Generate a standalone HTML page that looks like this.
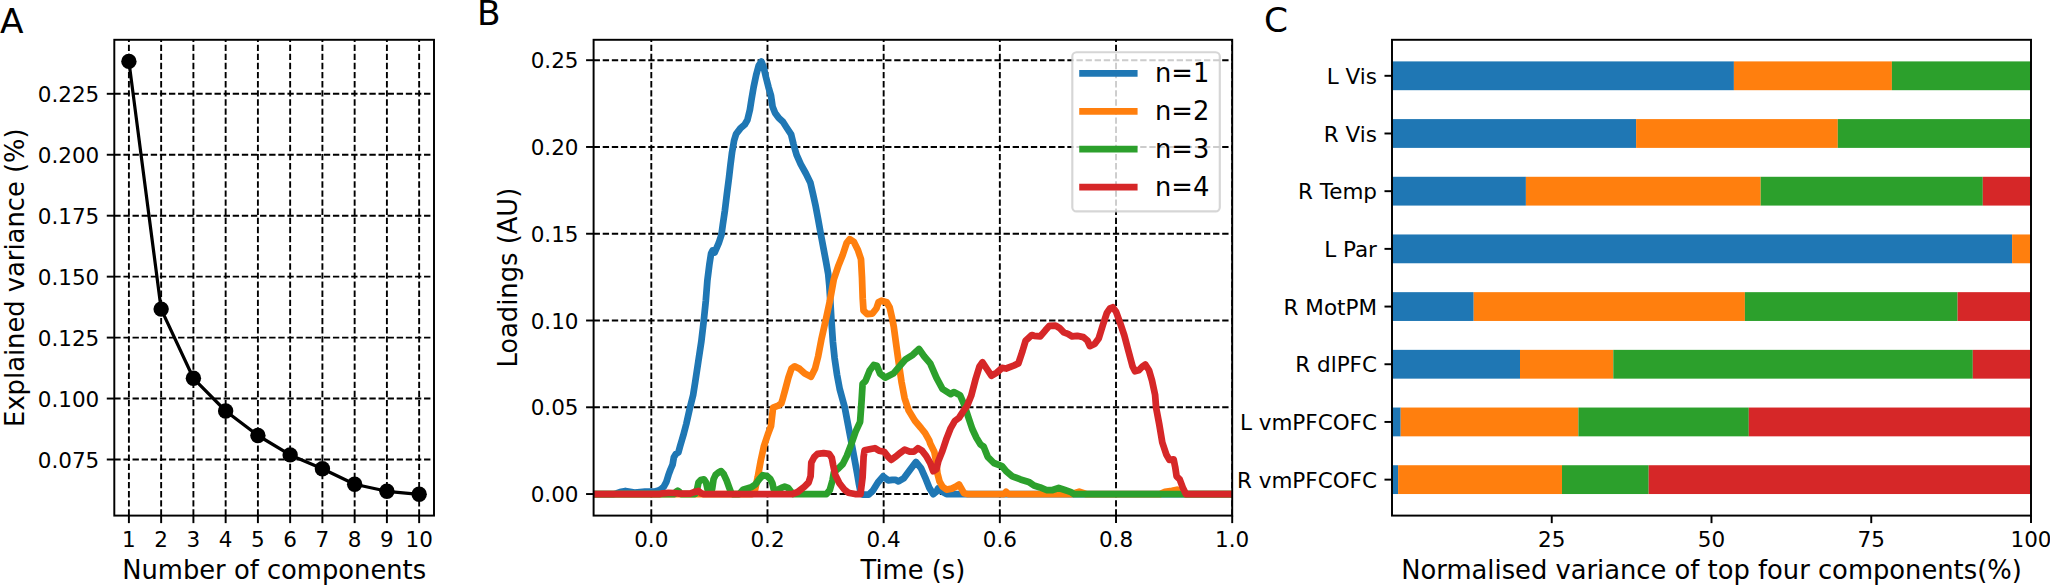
<!DOCTYPE html>
<html lang="en"><head><meta charset="utf-8"><title>Figure</title>
<style>html,body{margin:0;padding:0;background:#fff}svg{display:block}text{font-family:"DejaVu Sans", "Liberation Sans", sans-serif;fill:#000}</style></head><body>
<svg width="2050" height="585" viewBox="0 0 2050 585">
<rect width="2050" height="585" fill="#fff"/>
<g id="panelA">
<text x="0" y="32.6" font-size="34.38" text-anchor="start">A</text>
<clipPath id="cA"><rect x="114.3" y="39.8" width="319.7" height="475.8"/></clipPath>
<g clip-path="url(#cA)">
<line x1="128.9" y1="515.6" x2="128.9" y2="39.8" stroke="#000" stroke-width="1.9" stroke-dasharray="6.36 2.75"/>
<line x1="161.15" y1="515.6" x2="161.15" y2="39.8" stroke="#000" stroke-width="1.9" stroke-dasharray="6.36 2.75"/>
<line x1="193.4" y1="515.6" x2="193.4" y2="39.8" stroke="#000" stroke-width="1.9" stroke-dasharray="6.36 2.75"/>
<line x1="225.65" y1="515.6" x2="225.65" y2="39.8" stroke="#000" stroke-width="1.9" stroke-dasharray="6.36 2.75"/>
<line x1="257.9" y1="515.6" x2="257.9" y2="39.8" stroke="#000" stroke-width="1.9" stroke-dasharray="6.36 2.75"/>
<line x1="290.15" y1="515.6" x2="290.15" y2="39.8" stroke="#000" stroke-width="1.9" stroke-dasharray="6.36 2.75"/>
<line x1="322.4" y1="515.6" x2="322.4" y2="39.8" stroke="#000" stroke-width="1.9" stroke-dasharray="6.36 2.75"/>
<line x1="354.65" y1="515.6" x2="354.65" y2="39.8" stroke="#000" stroke-width="1.9" stroke-dasharray="6.36 2.75"/>
<line x1="386.9" y1="515.6" x2="386.9" y2="39.8" stroke="#000" stroke-width="1.9" stroke-dasharray="6.36 2.75"/>
<line x1="419.15" y1="515.6" x2="419.15" y2="39.8" stroke="#000" stroke-width="1.9" stroke-dasharray="6.36 2.75"/>
<line x1="114.3" y1="93.8" x2="434" y2="93.8" stroke="#000" stroke-width="1.9" stroke-dasharray="6.36 2.75"/>
<line x1="114.3" y1="154.75" x2="434" y2="154.75" stroke="#000" stroke-width="1.9" stroke-dasharray="6.36 2.75"/>
<line x1="114.3" y1="215.7" x2="434" y2="215.7" stroke="#000" stroke-width="1.9" stroke-dasharray="6.36 2.75"/>
<line x1="114.3" y1="276.65" x2="434" y2="276.65" stroke="#000" stroke-width="1.9" stroke-dasharray="6.36 2.75"/>
<line x1="114.3" y1="337.6" x2="434" y2="337.6" stroke="#000" stroke-width="1.9" stroke-dasharray="6.36 2.75"/>
<line x1="114.3" y1="398.55" x2="434" y2="398.55" stroke="#000" stroke-width="1.9" stroke-dasharray="6.36 2.75"/>
<line x1="114.3" y1="459.5" x2="434" y2="459.5" stroke="#000" stroke-width="1.9" stroke-dasharray="6.36 2.75"/>
<polyline points="128.9,61.4 161.15,309.1 193.4,378.3 225.65,411 257.9,435.5 290.15,454.9 322.4,468.7 354.65,484.3 386.9,491.3 419.15,494.3" fill="none" stroke="#000" stroke-width="3.22" stroke-linejoin="round"/>
<circle cx="128.9" cy="61.4" r="7.7" fill="#000"/>
<circle cx="161.15" cy="309.1" r="7.7" fill="#000"/>
<circle cx="193.4" cy="378.3" r="7.7" fill="#000"/>
<circle cx="225.65" cy="411" r="7.7" fill="#000"/>
<circle cx="257.9" cy="435.5" r="7.7" fill="#000"/>
<circle cx="290.15" cy="454.9" r="7.7" fill="#000"/>
<circle cx="322.4" cy="468.7" r="7.7" fill="#000"/>
<circle cx="354.65" cy="484.3" r="7.7" fill="#000"/>
<circle cx="386.9" cy="491.3" r="7.7" fill="#000"/>
<circle cx="419.15" cy="494.3" r="7.7" fill="#000"/>
</g>
<line x1="128.9" y1="515.6" x2="128.9" y2="523.12" stroke="#000" stroke-width="1.95"/>
<text x="128.9" y="546.8" font-size="21.49" text-anchor="middle">1</text>
<line x1="161.15" y1="515.6" x2="161.15" y2="523.12" stroke="#000" stroke-width="1.95"/>
<text x="161.15" y="546.8" font-size="21.49" text-anchor="middle">2</text>
<line x1="193.4" y1="515.6" x2="193.4" y2="523.12" stroke="#000" stroke-width="1.95"/>
<text x="193.4" y="546.8" font-size="21.49" text-anchor="middle">3</text>
<line x1="225.65" y1="515.6" x2="225.65" y2="523.12" stroke="#000" stroke-width="1.95"/>
<text x="225.65" y="546.8" font-size="21.49" text-anchor="middle">4</text>
<line x1="257.9" y1="515.6" x2="257.9" y2="523.12" stroke="#000" stroke-width="1.95"/>
<text x="257.9" y="546.8" font-size="21.49" text-anchor="middle">5</text>
<line x1="290.15" y1="515.6" x2="290.15" y2="523.12" stroke="#000" stroke-width="1.95"/>
<text x="290.15" y="546.8" font-size="21.49" text-anchor="middle">6</text>
<line x1="322.4" y1="515.6" x2="322.4" y2="523.12" stroke="#000" stroke-width="1.95"/>
<text x="322.4" y="546.8" font-size="21.49" text-anchor="middle">7</text>
<line x1="354.65" y1="515.6" x2="354.65" y2="523.12" stroke="#000" stroke-width="1.95"/>
<text x="354.65" y="546.8" font-size="21.49" text-anchor="middle">8</text>
<line x1="386.9" y1="515.6" x2="386.9" y2="523.12" stroke="#000" stroke-width="1.95"/>
<text x="386.9" y="546.8" font-size="21.49" text-anchor="middle">9</text>
<line x1="419.15" y1="515.6" x2="419.15" y2="523.12" stroke="#000" stroke-width="1.95"/>
<text x="419.15" y="546.8" font-size="21.49" text-anchor="middle">10</text>
<line x1="106.78" y1="93.8" x2="114.3" y2="93.8" stroke="#000" stroke-width="1.95"/>
<text x="99.26" y="102" font-size="21.49" text-anchor="end">0.225</text>
<line x1="106.78" y1="154.75" x2="114.3" y2="154.75" stroke="#000" stroke-width="1.95"/>
<text x="99.26" y="162.95" font-size="21.49" text-anchor="end">0.200</text>
<line x1="106.78" y1="215.7" x2="114.3" y2="215.7" stroke="#000" stroke-width="1.95"/>
<text x="99.26" y="223.9" font-size="21.49" text-anchor="end">0.175</text>
<line x1="106.78" y1="276.65" x2="114.3" y2="276.65" stroke="#000" stroke-width="1.95"/>
<text x="99.26" y="284.85" font-size="21.49" text-anchor="end">0.150</text>
<line x1="106.78" y1="337.6" x2="114.3" y2="337.6" stroke="#000" stroke-width="1.95"/>
<text x="99.26" y="345.8" font-size="21.49" text-anchor="end">0.125</text>
<line x1="106.78" y1="398.55" x2="114.3" y2="398.55" stroke="#000" stroke-width="1.95"/>
<text x="99.26" y="406.75" font-size="21.49" text-anchor="end">0.100</text>
<line x1="106.78" y1="459.5" x2="114.3" y2="459.5" stroke="#000" stroke-width="1.95"/>
<text x="99.26" y="467.7" font-size="21.49" text-anchor="end">0.075</text>
<rect x="114.3" y="39.8" width="319.7" height="475.8" fill="none" stroke="#000" stroke-width="1.95"/>
<text x="274.15" y="578.8" font-size="25.78" text-anchor="middle">Number of components</text>
<text transform="translate(23.9 277.7) rotate(-90)" font-size="25.78" text-anchor="middle">Explained variance (%)</text>
</g>
<g id="panelB">
<text x="477.1" y="25.3" font-size="34.38" text-anchor="start">B</text>
<clipPath id="cB"><rect x="593.6" y="39.8" width="638.6" height="475.8"/></clipPath>
<g clip-path="url(#cB)">
<line x1="651.3" y1="515.6" x2="651.3" y2="39.8" stroke="#000" stroke-width="1.9" stroke-dasharray="6.36 2.75"/>
<line x1="767.48" y1="515.6" x2="767.48" y2="39.8" stroke="#000" stroke-width="1.9" stroke-dasharray="6.36 2.75"/>
<line x1="883.66" y1="515.6" x2="883.66" y2="39.8" stroke="#000" stroke-width="1.9" stroke-dasharray="6.36 2.75"/>
<line x1="999.84" y1="515.6" x2="999.84" y2="39.8" stroke="#000" stroke-width="1.9" stroke-dasharray="6.36 2.75"/>
<line x1="1116.02" y1="515.6" x2="1116.02" y2="39.8" stroke="#000" stroke-width="1.9" stroke-dasharray="6.36 2.75"/>
<line x1="1232.2" y1="515.6" x2="1232.2" y2="39.8" stroke="#000" stroke-width="1.9" stroke-dasharray="6.36 2.75"/>
<line x1="593.6" y1="494.05" x2="1232.2" y2="494.05" stroke="#000" stroke-width="1.9" stroke-dasharray="6.36 2.75"/>
<line x1="593.6" y1="407.28" x2="1232.2" y2="407.28" stroke="#000" stroke-width="1.9" stroke-dasharray="6.36 2.75"/>
<line x1="593.6" y1="320.51" x2="1232.2" y2="320.51" stroke="#000" stroke-width="1.9" stroke-dasharray="6.36 2.75"/>
<line x1="593.6" y1="233.74" x2="1232.2" y2="233.74" stroke="#000" stroke-width="1.9" stroke-dasharray="6.36 2.75"/>
<line x1="593.6" y1="146.97" x2="1232.2" y2="146.97" stroke="#000" stroke-width="1.9" stroke-dasharray="6.36 2.75"/>
<line x1="593.6" y1="60.2" x2="1232.2" y2="60.2" stroke="#000" stroke-width="1.9" stroke-dasharray="6.36 2.75"/>
<g transform="translate(0 0.3)">
<polyline points="593.4,493.75 614,493.75 616.5,493.2 620,491.8 625.4,490.7 630,491.5 634.6,492.2 640,491.8 645,491.4 655,491.3 658.5,490.3 661,489 663.7,486.5 666.4,481.5 668.5,474.6 670.5,469.2 672.6,464.4 673.9,456.9 676,453.5 678.4,452.1 680.1,445.9 682.1,439.1 683.3,435 686.3,423.7 690,407.3 693.1,395 695.1,382.5 698.2,362 701.3,341.5 703.7,321 705.8,300.5 707.4,280 709.5,263.4 711.1,253.2 712.6,250.1 714.6,252.2 716,249.1 718.7,242.9 721.4,234.7 722.8,224.5 724.9,210.1 726.9,193.7 729,177.3 730.4,165 732,152.5 734.1,140.2 736.1,133.7 740.2,128.3 744.8,124.2 747.4,119.7 749.9,109.5 751.5,99.2 753.6,86.9 756.2,74.6 758.7,65.4 761.4,61.3 763.8,67.4 765.9,76.7 768.5,86.9 771,95.5 772.6,106.4 775.1,112.6 778.8,117.7 782.9,121.4 786.4,126.9 791.1,134.1 793.6,144.3 796.6,154.6 800.7,163.8 805.9,173.2 810.4,182.4 813,193.7 815.7,206 818.2,219.3 820.6,232.7 823.3,247 826,261.4 828.2,273.7 829.3,285 830.3,300.5 831.5,321 832.9,341.5 834.6,357.9 837,374.3 839.7,388.7 842.8,400 844.8,407.3 847.9,423.7 851,440.1 854.1,456.5 857.1,472.9 858.8,483 860.5,491.4 862.6,494.3 868.7,494.3 872.8,490.4 877.9,482.2 883.1,476 888.2,480.1 892.3,479.5 895.4,479.5 898.5,481.1 903.6,478.1 909.7,469.9 915.9,461.7 921,467.8 925.1,477 929.2,487.3 933.3,493.9 936.4,491.4 938,488.3 942.5,491.4 946.6,493.75 1232.2,493.75" fill="none" stroke="#1f77b4" stroke-width="6.75" stroke-linejoin="round"/>
<polyline points="593.4,493.75 752,493.75 754.6,491.4 757.7,477 760.7,460.6 763.8,446.3 767.9,434 771,425.8 773.1,407.3 778.2,405.3 781.3,403.2 782.3,400 785.4,388.7 788.4,377.4 791.5,368.2 794.6,366.1 799.7,368.6 804.8,373.3 811,376.4 815.1,368.2 818.2,355.9 821.3,339.5 825.7,320 829.8,301 833.8,279 838.5,265.1 842.6,254.9 846.7,242.6 849.7,238.9 853.8,241.5 857.9,249.7 861,259 862,277.4 862.7,297.9 863.5,310.2 867.2,313.9 872.3,313.3 876.4,308.2 878.5,302 881.5,300.4 886.7,302 889.7,307.2 891.8,316.4 893.8,326.6 895.6,340 898.5,361 901.5,381.5 904.6,397.9 908.7,410.3 914.9,420.5 921,427.7 925.1,432.8 929.2,440 930.2,443.2 934.3,451.4 936.4,462.7 937.4,472.9 939.5,481.1 942.5,486.3 946.6,489.3 951.8,488.3 955.9,486.3 959,484.2 962,489.3 964.1,493 967.2,493.75 1004.1,493.75 1006.1,491.5 1008.2,493.75 1072,493.75 1079.2,491.4 1086,493.75 1160,493.75 1165,491.5 1172,490.5 1177,489.4 1181,491 1185,493.75 1232.2,493.75" fill="none" stroke="#ff7f0e" stroke-width="6.75" stroke-linejoin="round"/>
<polyline points="593.4,493.75 674.6,493.75 676.2,491.5 677.7,490.4 679.2,491.5 680.8,493.75 695.1,493.75 697.2,488.3 698.5,482.2 700.6,479.8 704,479 706.1,482.2 707.4,488.3 709.1,492.4 710.8,492.4 712.2,488.3 713.6,478.8 715.6,474.6 718.4,472.2 721.1,470.8 723.8,474 726.6,480.1 729.3,487.6 731.4,493.1 733,493.75 739,493.75 740.2,492.6 743,489.5 747.1,488.2 751.2,487 755.3,484.2 759.4,478.7 762.8,474.9 766.9,475.7 770.3,478.8 772.4,482.9 773.7,489 777.2,489.7 781.3,487.6 784.7,486.3 788.1,487.6 790.8,491 792.9,493.75 826.4,493.75 829.8,489.7 832.5,480.1 833.9,471.9 838.7,467.8 842.8,463.7 846.9,455.5 851,444.6 855.5,431.5 860.1,421.5 861.5,402 862.6,383.6 865.6,380.5 869.7,370.2 873.8,364.7 876.9,365.5 880,373.3 885.1,377.4 893.3,373.3 899.5,366.1 905.6,359 912.8,354.5 919,348.7 924.1,355.9 930.2,363.1 936.4,377.4 942.5,388.7 950.7,393.8 953.8,391.8 960,394.9 964.1,404.1 968.2,416.4 972.3,428.7 976.4,437.5 980.5,444.2 983.6,446.3 987.7,456.5 993.8,462.7 1002,465.8 1006.1,470.9 1012.3,476 1020.5,479.1 1028.7,481.6 1034,485.2 1040.2,487.1 1046.4,489.7 1052.6,489.7 1058.7,487.7 1064.9,489.7 1071,491.8 1074.1,493.75 1232.2,493.75" fill="none" stroke="#2ca02c" stroke-width="6.75" stroke-linejoin="round"/>
<polyline points="593.4,493.75 660,493.75 663,493 668.5,492.5 674,492.7 680,493.4 690,493.3 694,491.8 698.5,490.7 701,492.8 703,493.75 792.2,493.75 797.7,491.7 804.5,486.3 808.6,482.2 810.6,476 811.3,462.3 814.1,456.9 817.5,453.5 823.6,452.8 829.1,453.5 831.8,457.6 833.2,465.1 835.3,474.7 839.4,482.9 844.1,489 848.3,492.4 855,493.75 860.5,493.75 862.6,477 863.6,456.5 864.6,450 870.8,448.7 874.9,447.9 879,450.4 884.1,451.4 888.2,456.5 891.3,459.6 895.4,456.5 900.5,452.4 904.6,449.3 909.7,451.4 913.8,451.4 917.9,447.9 922,450.4 926.1,455.5 930.2,462.7 933.3,470.9 936.4,468.8 938.4,460.6 942.5,450.4 946.6,438.1 950.7,427.8 954.9,420.6 959,417.6 963,411.4 967.2,405.3 971.2,395.5 975.4,379.5 979.5,366.1 982.5,362 986.6,368.2 991.4,375.4 996.9,372.3 1002,367.6 1006.1,368.2 1014.3,365.1 1018.4,363.1 1022.5,350.8 1025.6,340.5 1031.8,334.8 1034.1,335.5 1040.3,336.1 1045.4,330 1049.5,325.5 1055.6,325.3 1059.7,327.9 1063.8,332 1067.9,333.5 1072,336.1 1077.2,335.5 1083.3,336.8 1087.4,340.2 1089.9,345.8 1094.6,343.7 1098.7,338.2 1102.8,324.9 1106.9,312.6 1110,308 1112.7,307 1116.1,311.5 1120.2,322.8 1124.3,335.1 1128.4,350.5 1132.5,365.9 1135,371 1138.7,370 1142.8,365.9 1145.3,364.2 1149,370 1152,380.2 1155.1,394.6 1156.1,407.3 1159.2,423.7 1162.3,442.2 1166.4,454.5 1169.5,459.6 1173.6,459 1175.2,466.8 1176.6,476 1179.7,479.1 1182.8,487.3 1185.9,493.75 1232.2,493.75" fill="none" stroke="#d62728" stroke-width="6.75" stroke-linejoin="round"/>
</g>
</g>
<line x1="651.3" y1="515.6" x2="651.3" y2="523.12" stroke="#000" stroke-width="1.95"/>
<text x="651.3" y="546.8" font-size="21.49" text-anchor="middle">0.0</text>
<line x1="767.48" y1="515.6" x2="767.48" y2="523.12" stroke="#000" stroke-width="1.95"/>
<text x="767.48" y="546.8" font-size="21.49" text-anchor="middle">0.2</text>
<line x1="883.66" y1="515.6" x2="883.66" y2="523.12" stroke="#000" stroke-width="1.95"/>
<text x="883.66" y="546.8" font-size="21.49" text-anchor="middle">0.4</text>
<line x1="999.84" y1="515.6" x2="999.84" y2="523.12" stroke="#000" stroke-width="1.95"/>
<text x="999.84" y="546.8" font-size="21.49" text-anchor="middle">0.6</text>
<line x1="1116.02" y1="515.6" x2="1116.02" y2="523.12" stroke="#000" stroke-width="1.95"/>
<text x="1116.02" y="546.8" font-size="21.49" text-anchor="middle">0.8</text>
<line x1="1232.2" y1="515.6" x2="1232.2" y2="523.12" stroke="#000" stroke-width="1.95"/>
<text x="1232.2" y="546.8" font-size="21.49" text-anchor="middle">1.0</text>
<line x1="586.08" y1="494.05" x2="593.6" y2="494.05" stroke="#000" stroke-width="1.95"/>
<text x="578.56" y="502.25" font-size="21.49" text-anchor="end">0.00</text>
<line x1="586.08" y1="407.28" x2="593.6" y2="407.28" stroke="#000" stroke-width="1.95"/>
<text x="578.56" y="415.48" font-size="21.49" text-anchor="end">0.05</text>
<line x1="586.08" y1="320.51" x2="593.6" y2="320.51" stroke="#000" stroke-width="1.95"/>
<text x="578.56" y="328.71" font-size="21.49" text-anchor="end">0.10</text>
<line x1="586.08" y1="233.74" x2="593.6" y2="233.74" stroke="#000" stroke-width="1.95"/>
<text x="578.56" y="241.94" font-size="21.49" text-anchor="end">0.15</text>
<line x1="586.08" y1="146.97" x2="593.6" y2="146.97" stroke="#000" stroke-width="1.95"/>
<text x="578.56" y="155.17" font-size="21.49" text-anchor="end">0.20</text>
<line x1="586.08" y1="60.2" x2="593.6" y2="60.2" stroke="#000" stroke-width="1.95"/>
<text x="578.56" y="68.4" font-size="21.49" text-anchor="end">0.25</text>
<rect x="593.6" y="39.8" width="638.6" height="475.8" fill="none" stroke="#000" stroke-width="1.95"/>
<text x="912.9" y="578.8" font-size="25.78" text-anchor="middle">Time (s)</text>
<text transform="translate(517 277.7) rotate(-90)" font-size="25.78" text-anchor="middle">Loadings (AU)</text>
<rect x="1072.3" y="52.2" width="147.5" height="159.2" rx="4.2" ry="4.2" fill="#fff" fill-opacity="0.8" stroke="#ccc" stroke-opacity="0.8" stroke-width="2.15"/>
<line x1="1082.6" y1="73.3" x2="1134.2" y2="73.3" stroke="#1f77b4" stroke-width="6.75" stroke-linecap="square"/>
<text x="1155" y="82.2" font-size="25.78" text-anchor="start">n=1</text>
<line x1="1082.6" y1="111.25" x2="1134.2" y2="111.25" stroke="#ff7f0e" stroke-width="6.75" stroke-linecap="square"/>
<text x="1155" y="120.15" font-size="25.78" text-anchor="start">n=2</text>
<line x1="1082.6" y1="149.2" x2="1134.2" y2="149.2" stroke="#2ca02c" stroke-width="6.75" stroke-linecap="square"/>
<text x="1155" y="158.1" font-size="25.78" text-anchor="start">n=3</text>
<line x1="1082.6" y1="187.15" x2="1134.2" y2="187.15" stroke="#d62728" stroke-width="6.75" stroke-linecap="square"/>
<text x="1155" y="196.05" font-size="25.78" text-anchor="start">n=4</text>
</g>
<g id="panelC">
<text x="1264.1" y="32.4" font-size="34.38" text-anchor="start">C</text>
<rect x="1392" y="61.4" width="341.9" height="28.8" fill="#1f77b4"/>
<rect x="1733.9" y="61.4" width="158" height="28.8" fill="#ff7f0e"/>
<rect x="1891.9" y="61.4" width="139.1" height="28.8" fill="#2ca02c"/>
<line x1="1384.48" y1="75.8" x2="1392" y2="75.8" stroke="#000" stroke-width="1.95"/>
<text x="1376.96" y="84" font-size="21.49" text-anchor="end">L Vis</text>
<rect x="1392" y="119.09" width="244.1" height="28.8" fill="#1f77b4"/>
<rect x="1636.1" y="119.09" width="201.7" height="28.8" fill="#ff7f0e"/>
<rect x="1837.8" y="119.09" width="193.2" height="28.8" fill="#2ca02c"/>
<line x1="1384.48" y1="133.49" x2="1392" y2="133.49" stroke="#000" stroke-width="1.95"/>
<text x="1376.96" y="141.69" font-size="21.49" text-anchor="end">R Vis</text>
<rect x="1392" y="176.78" width="133.9" height="28.8" fill="#1f77b4"/>
<rect x="1525.9" y="176.78" width="234.8" height="28.8" fill="#ff7f0e"/>
<rect x="1760.7" y="176.78" width="222.1" height="28.8" fill="#2ca02c"/>
<rect x="1982.8" y="176.78" width="48.2" height="28.8" fill="#d62728"/>
<line x1="1384.48" y1="191.18" x2="1392" y2="191.18" stroke="#000" stroke-width="1.95"/>
<text x="1376.96" y="199.38" font-size="21.49" text-anchor="end">R Temp</text>
<rect x="1392" y="234.47" width="620.1" height="28.8" fill="#1f77b4"/>
<rect x="2012.1" y="234.47" width="18.9" height="28.8" fill="#ff7f0e"/>
<line x1="1384.48" y1="248.87" x2="1392" y2="248.87" stroke="#000" stroke-width="1.95"/>
<text x="1376.96" y="257.07" font-size="21.49" text-anchor="end">L Par</text>
<rect x="1392" y="292.16" width="81.7" height="28.8" fill="#1f77b4"/>
<rect x="1473.7" y="292.16" width="271.2" height="28.8" fill="#ff7f0e"/>
<rect x="1744.9" y="292.16" width="212.7" height="28.8" fill="#2ca02c"/>
<rect x="1957.6" y="292.16" width="73.4" height="28.8" fill="#d62728"/>
<line x1="1384.48" y1="306.56" x2="1392" y2="306.56" stroke="#000" stroke-width="1.95"/>
<text x="1376.96" y="314.76" font-size="21.49" text-anchor="end">R MotPM</text>
<rect x="1392" y="349.85" width="128" height="28.8" fill="#1f77b4"/>
<rect x="1520" y="349.85" width="93.3" height="28.8" fill="#ff7f0e"/>
<rect x="1613.3" y="349.85" width="359.5" height="28.8" fill="#2ca02c"/>
<rect x="1972.8" y="349.85" width="58.2" height="28.8" fill="#d62728"/>
<line x1="1384.48" y1="364.25" x2="1392" y2="364.25" stroke="#000" stroke-width="1.95"/>
<text x="1376.96" y="372.45" font-size="21.49" text-anchor="end">R dlPFC</text>
<rect x="1392" y="407.54" width="8.7" height="28.8" fill="#1f77b4"/>
<rect x="1400.7" y="407.54" width="177.7" height="28.8" fill="#ff7f0e"/>
<rect x="1578.4" y="407.54" width="170.4" height="28.8" fill="#2ca02c"/>
<rect x="1748.8" y="407.54" width="282.2" height="28.8" fill="#d62728"/>
<line x1="1384.48" y1="421.94" x2="1392" y2="421.94" stroke="#000" stroke-width="1.95"/>
<text x="1376.96" y="430.14" font-size="21.49" text-anchor="end">L vmPFCOFC</text>
<rect x="1392" y="465.23" width="6.1" height="28.8" fill="#1f77b4"/>
<rect x="1398.1" y="465.23" width="163.9" height="28.8" fill="#ff7f0e"/>
<rect x="1562" y="465.23" width="86.7" height="28.8" fill="#2ca02c"/>
<rect x="1648.7" y="465.23" width="382.3" height="28.8" fill="#d62728"/>
<line x1="1384.48" y1="479.63" x2="1392" y2="479.63" stroke="#000" stroke-width="1.95"/>
<text x="1376.96" y="487.83" font-size="21.49" text-anchor="end">R vmPFCOFC</text>
<line x1="1551.75" y1="515.6" x2="1551.75" y2="523.12" stroke="#000" stroke-width="1.95"/>
<text x="1551.75" y="546.8" font-size="21.49" text-anchor="middle">25</text>
<line x1="1711.5" y1="515.6" x2="1711.5" y2="523.12" stroke="#000" stroke-width="1.95"/>
<text x="1711.5" y="546.8" font-size="21.49" text-anchor="middle">50</text>
<line x1="1871.25" y1="515.6" x2="1871.25" y2="523.12" stroke="#000" stroke-width="1.95"/>
<text x="1871.25" y="546.8" font-size="21.49" text-anchor="middle">75</text>
<line x1="2031" y1="515.6" x2="2031" y2="523.12" stroke="#000" stroke-width="1.95"/>
<text x="2031" y="546.8" font-size="21.49" text-anchor="middle">100</text>
<rect x="1392" y="39.8" width="639" height="475.8" fill="none" stroke="#000" stroke-width="1.95"/>
<text x="1711.5" y="578.8" font-size="25.78" text-anchor="middle">Normalised variance of top four components(%)</text>
</g>
</svg></body></html>
